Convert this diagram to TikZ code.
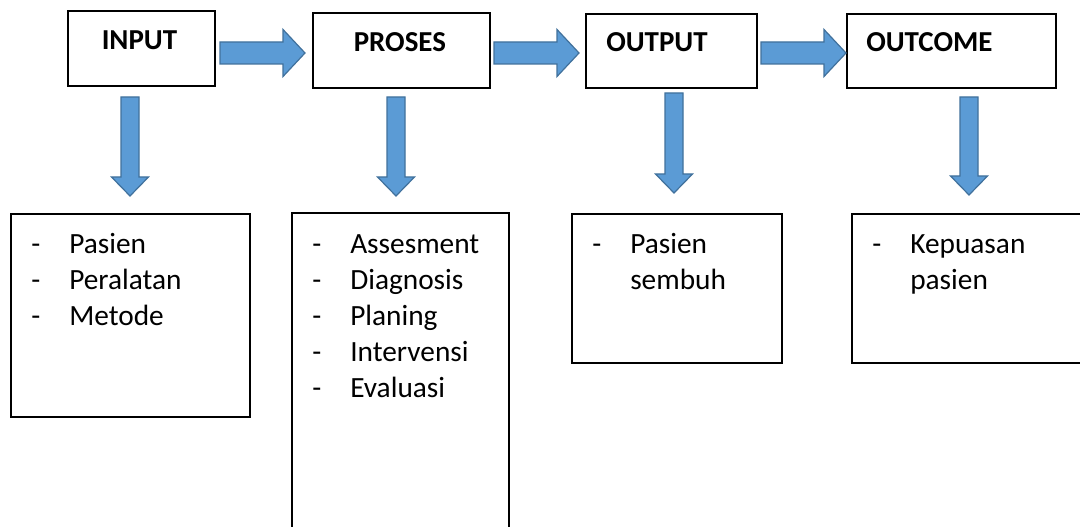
\documentclass[tikz,border=0pt]{standalone}
\usepackage{fontspec}
\setmainfont{Carlito}
\usetikzlibrary{fit}
\definecolor{arrfill}{HTML}{5B9BD5}
\definecolor{arrline}{HTML}{41719C}
\tikzset{
  x=0.75pt, y=-0.75pt,
  box/.style={draw=black, line width=0.8pt, inner sep=0pt},
  head/.style={anchor=base west, inner sep=0pt, font=\fontsize{21.7pt}{27pt}\selectfont\bfseries},
  list/.style={anchor=base west, inner sep=0pt, font=\fontsize{22pt}{27pt}\selectfont},
  blockarrow/.style={fill=arrfill, draw=arrline, line width=0.9pt, line join=miter},
  rarrow/.pic={\filldraw[blockarrow] (0,-11) -- ({#1-22},-11) -- ({#1-22},-23.5) -- (#1,0) -- ({#1-22},23.5) -- ({#1-22},11) -- (0,11) -- cycle;},
  darrow/.pic={\filldraw[blockarrow] (-9,0) -- (9,0) -- (9,{#1-19}) -- (18.5,{#1-19}) -- (0,#1) -- (-18.5,{#1-19}) -- (-9,{#1-19}) -- cycle;}
}
\newcommand{\lst}[1]{\begin{tabular}[t]{@{}p{28.5pt}@{}l@{}}#1\end{tabular}}
\begin{document}
\begin{tikzpicture}
\useasboundingbox (0,0) rectangle (1080,527);
\clip (0,0) rectangle (1080,527);
\fill[white] (0,0) rectangle (1080,527);

% top boxes
\node[box, fit={(68,11) (215,86)}] (in) {};
\node[box, fit={(313,13) (490,88)}] (pr) {};
\node[box, fit={(586,14) (757,88)}] (out) {};
\node[box, fit={(847,14) (1056,88)}] (oc) {};

\node[head] (tin) at (101.5,50) {INPUT};
\node[head] (tpr) at (353.5,52) {PROSES};
\node[head] (tout) at (606,52) {OUTPUT};
\node[head] (toc) at (866,52) {OUTCOME};

% horizontal block arrows
\pic at (220,53) {rarrow=85};
\pic at (494,53) {rarrow=85};
\pic at (761,53) {rarrow=85};

% vertical block arrows
\pic at (130,97) {darrow=99};
\pic at (396,97) {darrow=99};
\pic at (674,93) {darrow=100};
\pic at (969,97) {darrow=98};

% bottom boxes
\node[box, fit={(11,214) (250,417)}] (bin) {};
\node[box, fit={(292,213) (509,540)}] (bpr) {};
\node[box, fit={(572,214) (782,363)}] (bout) {};
\node[box, fit={(852,214) (1100,363)}] (boc) {};

\node[list] (lin) at (31,253) {\lst{- & Pasien\\ - & Peralatan\\ - & Metode}};
\node[list] (lpr) at (312,253) {\lst{- & Assesment\\ - & Diagnosis\\ - & Planing\\ - & Intervensi\\ - & Evaluasi}};
\node[list] (lout) at (592,253) {\lst{- & Pasien\\ & sembuh}};
\node[list] (loc) at (872,253) {\lst{- & Kepuasan\\ & pasien}};
\end{tikzpicture}
\end{document}
